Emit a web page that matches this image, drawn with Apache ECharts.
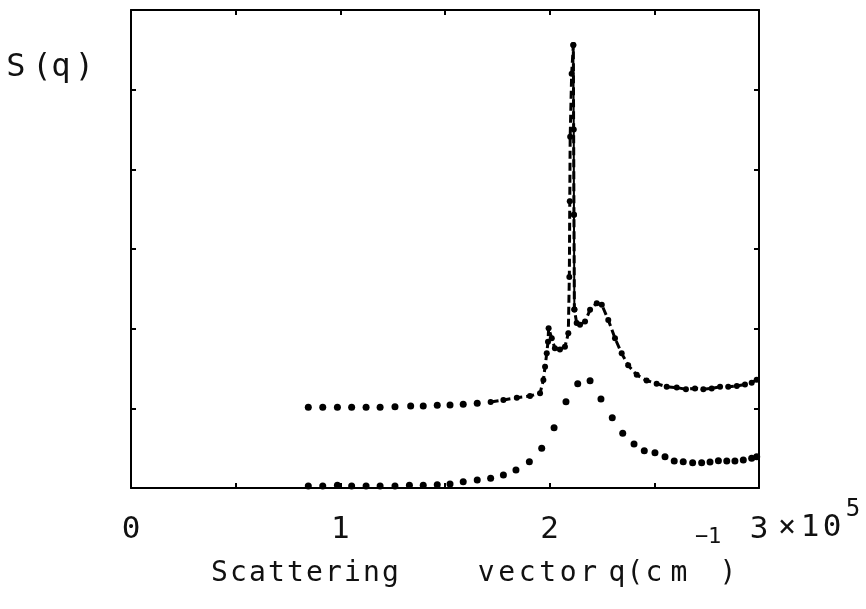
<!DOCTYPE html>
<html>
<head>
<meta charset="utf-8">
<script src="https://cdn.jsdelivr.net/npm/echarts@6/dist/echarts.min.js"></script>
<style>
html,body{margin:0;padding:0;background:#fff;}
#chart{width:866px;height:609px;}
</style>
</head>
<body>
<div id="chart"></div>
<script>
// q in units of 10^5 cm^-1, S(q) in arbitrary units
var lowerQ = [0.847,0.916,0.986,1.054,1.123,1.190,1.261,1.330,1.396,1.463,1.524,1.587,1.654,1.718,1.779,1.839,1.903,1.962,2.021,2.078,2.134,2.193,2.245,2.299,2.349,2.403,2.452,2.503,2.551,2.595,2.638,2.683,2.726,2.766,2.806,2.846,2.885,2.925,2.965,2.989];
var lowerS = [0.025,0.025,0.034,0.025,0.025,0.025,0.025,0.034,0.034,0.042,0.050,0.079,0.100,0.121,0.163,0.226,0.330,0.498,0.757,1.083,1.310,1.347,1.117,0.883,0.687,0.552,0.468,0.443,0.393,0.339,0.330,0.318,0.318,0.326,0.343,0.339,0.339,0.351,0.372,0.393];

var upperDotQ = [0.847,0.916,0.986,1.054,1.123,1.190,1.261,1.336,1.396,1.463,1.524,1.587,1.654];
var upperDotS = [1.013,1.013,1.013,1.013,1.013,1.013,1.021,1.030,1.030,1.038,1.042,1.051,1.063];

var dashQ = [1.718,1.779,1.843,1.906,1.954,1.970,1.978,1.986,1.992,1.995,2.010,2.025,2.049,2.073,2.089,2.094,2.096,2.098,2.105,2.113,2.116,2.118,2.129,2.145,2.169,2.193,2.225,2.249,2.280,2.312,2.344,2.375,2.416,2.463,2.511,2.559,2.607,2.651,2.694,2.734,2.774,2.814,2.853,2.894,2.933,2.965,2.989];
var dashS = [1.080,1.105,1.134,1.155,1.189,1.356,1.523,1.690,1.836,2.004,1.879,1.754,1.740,1.774,1.941,2.65,3.60,4.41,5.20,5.56,3.43,2.24,2.07,2.05,2.09,2.236,2.32,2.30,2.11,1.88,1.69,1.54,1.42,1.35,1.31,1.27,1.26,1.24,1.25,1.24,1.25,1.27,1.27,1.28,1.30,1.32,1.36];

// solid descending side of the sharp peak
var spikeQ = [2.113,2.115,2.116,2.118];
var spikeS = [5.56,4.50,3.43,2.24];

var xTicks = [0,1,2,3];

function pairs(xs, ys){
    var out = [];
    for(var i=0;i<xs.length;i++) out.push([xs[i], ys[i]]);
    return out;
}

// the old plotter lettering is widely spaced, so every glyph gets its own box
function spaced(parts){
    var s = '';
    for(var i=0;i<parts.length;i++){
        var p = parts[i]; // [text, styleName, boxWidth]
        for(var j=0;j<p[0].length;j++) s += '{' + p[1] + p[2] + '|' + p[0][j] + '}';
    }
    return s;
}
function richStyles(list){
    var r = {};
    list.forEach(function(d){
        r[d.name] = {fontFamily:FONT, fontSize:d.size, fill:'#111', width:d.w, align:'center',
                     lineHeight:d.lh, verticalAlign:d.va || 'middle'};
    });
    return r;
}

var FONT = '"DejaVu Sans Mono", monospace';
var chart = echarts.init(document.getElementById('chart'));

var axisLine = {show:true, onZero:false, lineStyle:{color:'#000', width:2}};
var tick = {show:true, inside:true, length:5, lineStyle:{color:'#000', width:2}};

var titleText = spaced([
    ['Scattering','a',19], [' ','a',76], ['vector','b',20], [' ','a',9],
    ['q(','a',18], ['c','a',20], ['m','a',30], ['\u2212','s',15], ['1','t',11], [')','a',16]
]);
var titleRich = richStyles([
    {name:'a19', size:28, w:19, lh:96}, {name:'a76', size:28, w:76, lh:96},
    {name:'b20', size:28, w:20.5, lh:96}, {name:'a9', size:28, w:9, lh:96},
    {name:'a18', size:28, w:18, lh:96}, {name:'a20', size:28, w:20, lh:96},
    {name:'a30', size:28, w:30, lh:96}, {name:'a16', size:28, w:16, lh:96},
    {name:'s15', size:22, w:15, lh:30, va:'top'}, {name:'t11', size:22, w:11, lh:30, va:'top'}
]);

var sqText = spaced([['S','a',26], ['(','a',26], ['q','a',12], [')','a',35]]);
var sqRich = richStyles([
    {name:'a26', size:32, w:26, lh:40}, {name:'a12', size:32, w:12, lh:40}, {name:'a35', size:32, w:35, lh:40}
]);

var expText = spaced([['\u00d7','a',24], ['1','a',22], ['0','a',22], ['5','s',20]]);
var expRich = richStyles([
    {name:'a24', size:30, w:24, lh:60}, {name:'a22', size:31, w:22, lh:60},
    {name:'s20', size:24, w:20, lh:28, va:'top'}
]);

var option = {
    backgroundColor:'#fff',
    animation:false,
    grid:{left:131, right:107, top:10, bottom:121},
    xAxis:[{
        type:'value', min:0, max:3, interval:0.5, position:'bottom',
        axisLine:axisLine, axisTick:tick, splitLine:{show:false},
        axisLabel:{
            margin:26, fontFamily:FONT, fontSize:31, color:'#111',
            formatter:function(v){ return xTicks.indexOf(v) >= 0 ? String(v) : ''; }
        }
    },{
        type:'value', min:0, max:3, interval:0.5, position:'top',
        axisLine:axisLine, axisTick:tick, axisLabel:{show:false}, splitLine:{show:false}
    }],
    yAxis:[{
        type:'value', min:0, max:6, interval:1, position:'left',
        axisLine:axisLine, axisTick:tick, axisLabel:{show:false}, splitLine:{show:false}
    },{
        type:'value', min:0, max:6, interval:1, position:'right',
        axisLine:axisLine, axisTick:tick, axisLabel:{show:false}, splitLine:{show:false}
    }],
    graphic:[{
        type:'text', left:210, top:526,
        style:{text:titleText, rich:titleRich}
    },{
        type:'text', left:3, top:52,
        style:{text:sqText, rich:sqRich}
    },{
        type:'text', left:775, top:498,
        style:{text:expText, rich:expRich}
    }],
    series:[{
        type:'scatter', data:pairs(lowerQ, lowerS),
        symbol:'circle', symbolSize:7, itemStyle:{color:'#000', opacity:1}
    },{
        type:'scatter', data:pairs(upperDotQ, upperDotS),
        symbol:'circle', symbolSize:7, itemStyle:{color:'#000', opacity:1}
    },{
        type:'line', data:pairs(dashQ, dashS),
        showSymbol:true, symbol:'circle', symbolSize:6,
        itemStyle:{color:'#000'},
        lineStyle:{color:'#000', width:3, type:[8,4]}
    },{
        type:'line', data:pairs(spikeQ, spikeS),
        showSymbol:true, symbol:'circle', symbolSize:6,
        itemStyle:{color:'#000'},
        lineStyle:{color:'#000', width:2}
    }]
};
chart.setOption(option);
</script>
</body>
</html>
